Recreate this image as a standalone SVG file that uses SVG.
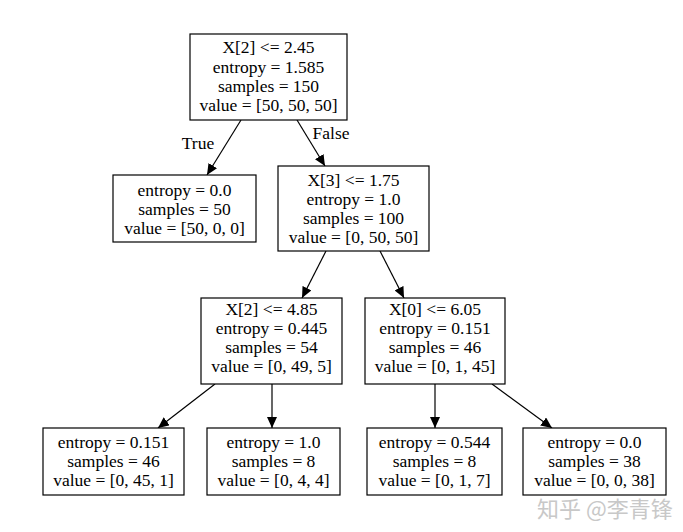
<svg xmlns="http://www.w3.org/2000/svg" width="683" height="532" viewBox="0 0 683 532">
<defs>
<marker id="ah" markerUnits="userSpaceOnUse" markerWidth="12" markerHeight="10" refX="11" refY="5" orient="auto">
<path d="M0,0 L11,5 L0,10 Z" fill="#000"/>
</marker>
<style>
rect{fill:#fff;stroke:#000;stroke-width:1.2}
text{font-family:"Liberation Serif","Times New Roman",serif;font-size:17.5px;fill:#000;text-anchor:middle}
.e line{stroke:#000;stroke-width:1.2;marker-end:url(#ah)}
.wm{font-family:"Noto Sans CJK SC","Liberation Sans",sans-serif;font-size:22px;fill:#c8c8c8;text-anchor:start}
</style>
</defs>
<rect x="0" y="0" width="683" height="532" style="fill:#fff;stroke:none"/>
<g class="e" id="edges">
<line x1="241" y1="120" x2="207" y2="175"/>
<line x1="297" y1="120" x2="325" y2="166"/>
<line x1="326" y1="251" x2="302" y2="298"/>
<line x1="380" y1="251" x2="404" y2="298"/>
<line x1="215" y1="384" x2="158" y2="428"/>
<line x1="272" y1="384" x2="272" y2="428"/>
<line x1="435" y1="384" x2="435" y2="428"/>
<line x1="492" y1="384" x2="552" y2="428"/>
<text x="198" y="149">True</text>
<text x="331" y="139">False</text>
</g>
<g id="n0"><rect x="190" y="34" width="157" height="86"/>
<text x="268.5" y="53">X[2] &lt;= 2.45</text><text x="268.5" y="73">entropy = 1.585</text><text x="268.5" y="92">samples = 150</text><text x="268.5" y="111">value = [50, 50, 50]</text></g>
<g id="n1"><rect x="113" y="175" width="143" height="67"/>
<text x="184.5" y="196">entropy = 0.0</text><text x="184.5" y="215">samples = 50</text><text x="184.5" y="234">value = [50, 0, 0]</text></g>
<g id="n2"><rect x="278" y="166" width="151" height="85"/>
<text x="353.5" y="186">X[3] &lt;= 1.75</text><text x="353.5" y="205">entropy = 1.0</text><text x="353.5" y="224">samples = 100</text><text x="353.5" y="243">value = [0, 50, 50]</text></g>
<g id="n3"><rect x="201" y="298" width="141" height="86"/>
<text x="271.5" y="315">X[2] &lt;= 4.85</text><text x="271.5" y="334">entropy = 0.445</text><text x="271.5" y="353">samples = 54</text><text x="271.5" y="372">value = [0, 49, 5]</text></g>
<g id="n4"><rect x="365" y="298" width="140" height="86"/>
<text x="435" y="315">X[0] &lt;= 6.05</text><text x="435" y="334">entropy = 0.151</text><text x="435" y="353">samples = 46</text><text x="435" y="372">value = [0, 1, 45]</text></g>
<g id="n5"><rect x="43" y="428" width="141" height="67"/>
<text x="113.5" y="448">entropy = 0.151</text><text x="113.5" y="467">samples = 46</text><text x="113.5" y="486">value = [0, 45, 1]</text></g>
<g id="n6"><rect x="207" y="428" width="133" height="67"/>
<text x="273.5" y="448">entropy = 1.0</text><text x="273.5" y="467">samples = 8</text><text x="273.5" y="486">value = [0, 4, 4]</text></g>
<g id="n7"><rect x="367" y="428" width="135" height="67"/>
<text x="434.5" y="448">entropy = 0.544</text><text x="434.5" y="467">samples = 8</text><text x="434.5" y="486">value = [0, 1, 7]</text></g>
<g id="n8"><rect x="523" y="428" width="143" height="67"/>
<text x="594.5" y="448">entropy = 0.0</text><text x="594.5" y="467">samples = 38</text><text x="594.5" y="486">value = [0, 0, 38]</text></g>
<text class="wm" x="537" y="517">知乎 @李青锋</text>
</svg>
